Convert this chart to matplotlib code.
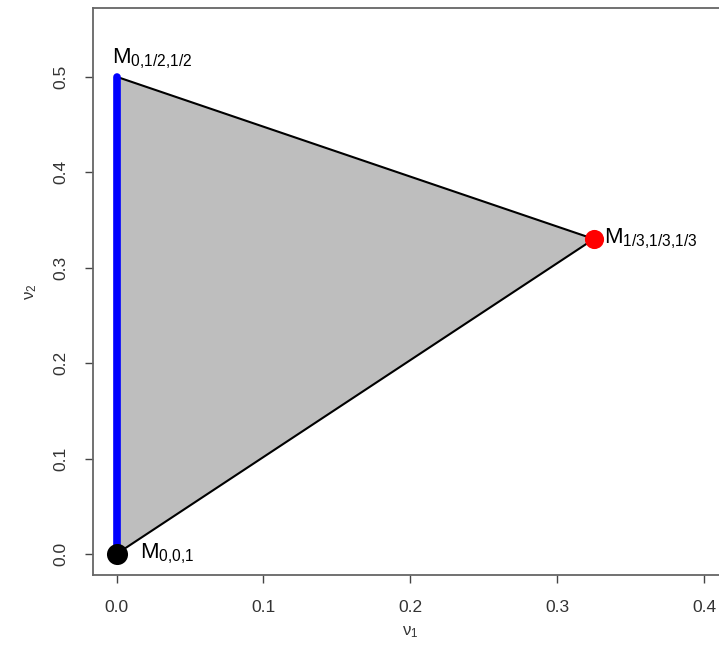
import numpy as np
import matplotlib
matplotlib.use("Agg")
from matplotlib import pyplot as plt
from matplotlib.patches import Polygon

plt.rcParams['font.family'] = ['Liberation Sans', 'DejaVu Sans']
plt.rcParams['mathtext.fontset'] = 'custom'
plt.rcParams['mathtext.rm'] = 'Liberation Sans'
plt.rcParams['mathtext.it'] = 'Liberation Sans'

# vertices of the region (nu1, nu2)
vert_x = [0.0, 0.0, 0.325]
vert_y = [0.0, 0.5, 0.33]
vert_labels = [r'$\mathrm{M}_{0{,}0{,}1}$', r'$\mathrm{M}_{0{,}1/2{,}1/2}$',
               r'$\mathrm{M}_{1/3{,}1/3{,}1/3}$']

edge_x = [0.0, 0.0]
edge_y = [0.0, 0.5]

xticks = [0.0, 0.1, 0.2, 0.3, 0.4]
yticks = [0.0, 0.1, 0.2, 0.3, 0.4, 0.5]

fig = plt.figure(figsize=(7.19, 6.64), dpi=100)
ax = fig.add_axes([93/719, 89/664, (727.5-93)/719, (575-8)/664])

poly = Polygon(np.column_stack([vert_x, vert_y]), closed=True,
               facecolor='#bebebe', edgecolor='black', linewidth=1.5, zorder=1)
ax.add_patch(poly)
ax.plot(edge_x, edge_y, color='#0000ff', linewidth=5.5, solid_capstyle='round', zorder=2)
ax.scatter([vert_x[0]], [vert_y[0]], s=230, color='black', zorder=3, linewidths=0)
ax.scatter([vert_x[2]], [vert_y[2]], s=190, color='#ff0000', zorder=3, linewidths=0)

ax.text(vert_x[0] + 0.016, vert_y[0], vert_labels[0], fontsize=16, ha='left', va='center')
ax.text(vert_x[1] - 0.003, vert_y[1] + 0.006, vert_labels[1], fontsize=16, ha='left', va='bottom')
ax.text(vert_x[2] + 0.007, vert_y[2], vert_labels[2], fontsize=16, ha='left', va='center')

ax.set_xlim(-0.016, 0.416)
ax.set_ylim(-0.022, 0.572)
ax.set_xticks(xticks)
ax.set_yticks(yticks)
ax.set_xticklabels(['%.1f' % t for t in xticks])
ax.set_yticklabels(['%.1f' % t for t in yticks], rotation=90, va='center')
ax.tick_params(direction='out', length=6, width=1, color='#444444',
               labelsize=12.5, labelcolor='#333333', pad=12)
for s in ax.spines.values():
    s.set_color('#666666')
    s.set_linewidth(1.3)

ax.set_xlabel(r'$\nu_1$', fontsize=12, color='#333333', labelpad=7)
ax.set_ylabel(r'$\nu_2$', fontsize=12, color='#333333', labelpad=10)

plt.savefig('out.png', dpi=100)
